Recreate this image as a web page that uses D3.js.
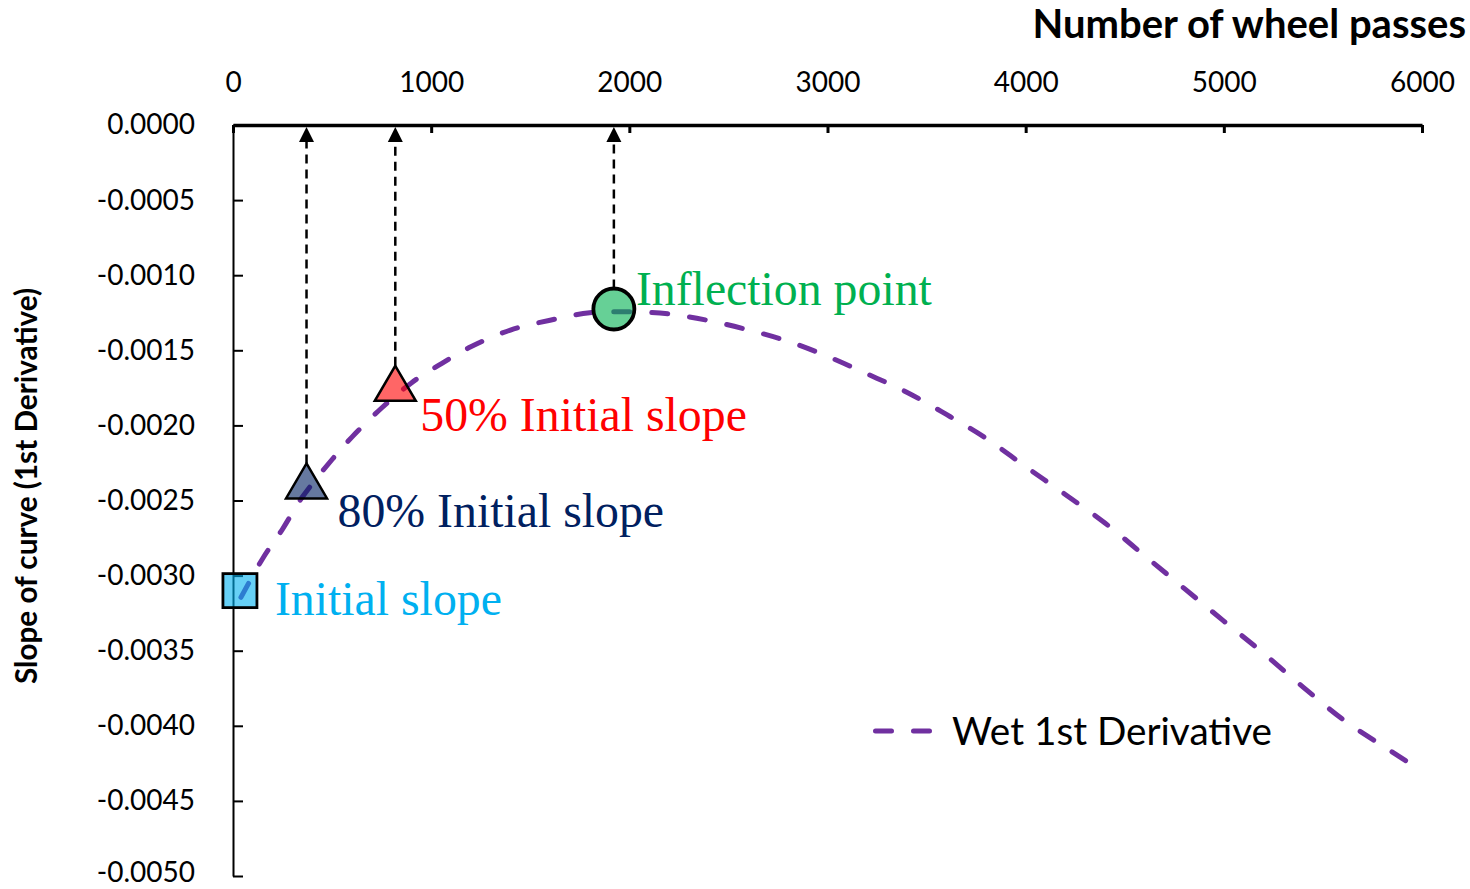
<!DOCTYPE html>
<html>
<head>
<meta charset="utf-8">
<script src="https://cdn.jsdelivr.net/npm/d3@7/dist/d3.min.js"></script>
<style>
  html, body { margin: 0; padding: 0; background: #fff; }
  svg { display: block; }
</style>
</head>
<body>
<svg id="chart" width="1470" height="889"></svg>
<script>
// Wet 1st derivative of the rut-depth curve versus wheel passes
const passes = [40, 150, 250, 350, 500, 600, 750, 900, 1050, 1200, 1400, 1600, 1800, 2000,
  2200, 2400, 2600, 2800, 3000, 3200, 3400, 3600, 3800, 4000, 4200, 4400, 4600, 4800,
  5000, 5200, 5400, 5600, 5800, 5965];
const slopeValues = [-0.003145, -0.002886, -0.00269, -0.002477, -0.002227, -0.002078, -0.001884,
  -0.001717, -0.00159, -0.001477, -0.001365, -0.0013, -0.00125, -0.001244,
  -0.001258, -0.001302, -0.001364, -0.00144, -0.00154, -0.001657, -0.001779, -0.001927,
  -0.002086, -0.002275, -0.00246, -0.00265, -0.002867, -0.003085,
  -0.003303, -0.003517, -0.003742, -0.003957, -0.004132, -0.004272];

// Characteristic points on the curve
const pointNames = ["Initial slope", "80% Initial slope", "50% Initial slope", "Inflection point"];
const pointPasses = [35, 371, 819, 1922];
const pointSlopes = [-0.0031, -0.00237, -0.00172, -0.001225];

const xTicks = [0, 1000, 2000, 3000, 4000, 5000, 6000];
const xTickLabels = ["0", "1000", "2000", "3000", "4000", "5000", "6000"];
const yTicks = [0, -0.0005, -0.001, -0.0015, -0.002, -0.0025, -0.003, -0.0035, -0.004, -0.0045, -0.005];
const yTickLabels = ["0.0000", "-0.0005", "-0.0010", "-0.0015", "-0.0020", "-0.0025",
  "-0.0030", "-0.0035", "-0.0040", "-0.0045", "-0.0050"];

const seriesName = "Wet 1st Derivative";
const xTitle = "Number of wheel passes";
const yTitle = "Slope of curve (1st Derivative)";

const svg = d3.select("#chart");
const sans = "Lato, 'Open Sans', sans-serif";
const serif = "'Liberation Serif', 'Times New Roman', serif";

const x = d3.scaleLinear().domain([0, 6000]).range([233, 1422]);
const y = d3.scaleLinear().domain([0, -0.005]).range([125, 876]);

// Top x axis: labels above, ticks pointing down into the plot
const gx = svg.append("g").attr("transform", `translate(0,${y(0)})`)
  .call(d3.axisTop(x).tickValues(xTicks).tickFormat((d, i) => xTickLabels[i])
    .tickSizeInner(-8).tickSizeOuter(0).tickPadding(33));
gx.select(".domain").attr("stroke", "#000").attr("stroke-width", 3.5);
gx.selectAll(".tick line").attr("stroke", "#000").attr("stroke-width", 3);
gx.selectAll(".tick text").attr("font-family", sans).attr("font-size", 28).attr("fill", "#000");

// Left y axis: ticks pointing right
const gy = svg.append("g").attr("transform", `translate(${x(0)},0)`)
  .call(d3.axisLeft(y).tickValues(yTicks).tickFormat((d, i) => yTickLabels[i])
    .tickSizeInner(-10).tickSizeOuter(0).tickPadding(38));
gy.select(".domain").attr("stroke", "#000").attr("stroke-width", 2);
gy.selectAll(".tick line").attr("stroke", "#000").attr("stroke-width", 2);
gy.selectAll(".tick text").attr("font-family", sans).attr("font-size", 28).attr("fill", "#000");
// keep the lowest label inside the page edge
gy.selectAll(".tick text").filter((d, i) => i === yTicks.length - 1).attr("dy", "0.2em");

// Axis titles
svg.append("text").attr("x", 1466).attr("y", 38).attr("text-anchor", "end")
  .attr("font-family", sans).attr("font-weight", "bold").attr("font-size", 40)
  .attr("fill", "#000").text(xTitle);
svg.append("text").attr("transform", "translate(37,486) rotate(-90)").attr("text-anchor", "middle")
  .attr("font-family", sans).attr("font-weight", "bold").attr("font-size", 29.7)
  .attr("fill", "#000").text(yTitle);

// Derivative curve
const line = d3.line().x((d, i) => x(passes[i])).y(d => y(d)).curve(d3.curveCatmullRom.alpha(0.5));
svg.append("path").datum(slopeValues).attr("d", line)
  .attr("fill", "none").attr("stroke", "#7030A0").attr("stroke-width", 5)
  .attr("stroke-dasharray", "16,22").attr("stroke-linecap", "round");

// Marker shapes and styles for the four points
const markerFill = ["#00B0F0", "#002060", "#FF0000", "#00B050"];
const labelColor = ["#00B0F0", "#002060", "#FF0000", "#00B050"];
const markerStroke = [2.8, 2.5, 2.5, 3.8];
const markerHalfHeight = [17, 17.5, 17.5, 20.5];
const labelDx = [35, 31, 25, 22];
const labelDy = [24, 46, 48, -4];

// Dashed arrows from each point (except the first) up to the wheel-pass axis
for (let i = 1; i < pointNames.length; i++) {
  const px = x(pointPasses[i]);
  const top = y(pointSlopes[i]) - markerHalfHeight[i];
  const tip = y(0) + 2;
  svg.append("line").attr("x1", px).attr("x2", px).attr("y1", top).attr("y2", tip + 14)
    .attr("stroke", "#000").attr("stroke-width", 2.5).attr("stroke-dasharray", "9,6");
  svg.append("path")
    .attr("d", `M${px},${tip}L${px + 7.5},${tip + 15}L${px - 7.5},${tip + 15}Z`)
    .attr("fill", "#000");
}

// Markers (semi-transparent fill over the curve)
pointNames.forEach((name, i) => {
  const px = x(pointPasses[i]), py = y(pointSlopes[i]);
  let shape;
  if (i === 0) {
    shape = svg.append("rect").attr("x", px - 17).attr("y", py - 17).attr("width", 34).attr("height", 34);
  } else if (i === 3) {
    shape = svg.append("circle").attr("cx", px).attr("cy", py).attr("r", 20.5);
  } else {
    shape = svg.append("path")
      .attr("d", `M${px},${py - 17.5}L${px + 20.5},${py + 17.5}L${px - 20.5},${py + 17.5}Z`);
  }
  shape.attr("fill", markerFill[i]).attr("fill-opacity", 0.6)
    .attr("stroke", "#000").attr("stroke-width", markerStroke[i]).attr("stroke-linejoin", "miter");

  svg.append("text").attr("x", px + labelDx[i]).attr("y", py + labelDy[i])
    .attr("font-family", serif).attr("font-size", 47.8).attr("fill", labelColor[i])
    .text(name);
});

// Legend
svg.append("line").attr("x1", 875.5).attr("x2", 929.5).attr("y1", 731).attr("y2", 731)
  .attr("stroke", "#7030A0").attr("stroke-width", 5).attr("stroke-dasharray", "16,22")
  .attr("stroke-linecap", "round");
svg.append("text").attr("x", 952).attr("y", 745)
  .attr("font-family", sans).attr("font-size", 38.7).attr("fill", "#000").text(seriesName);
</script>
</body>
</html>
